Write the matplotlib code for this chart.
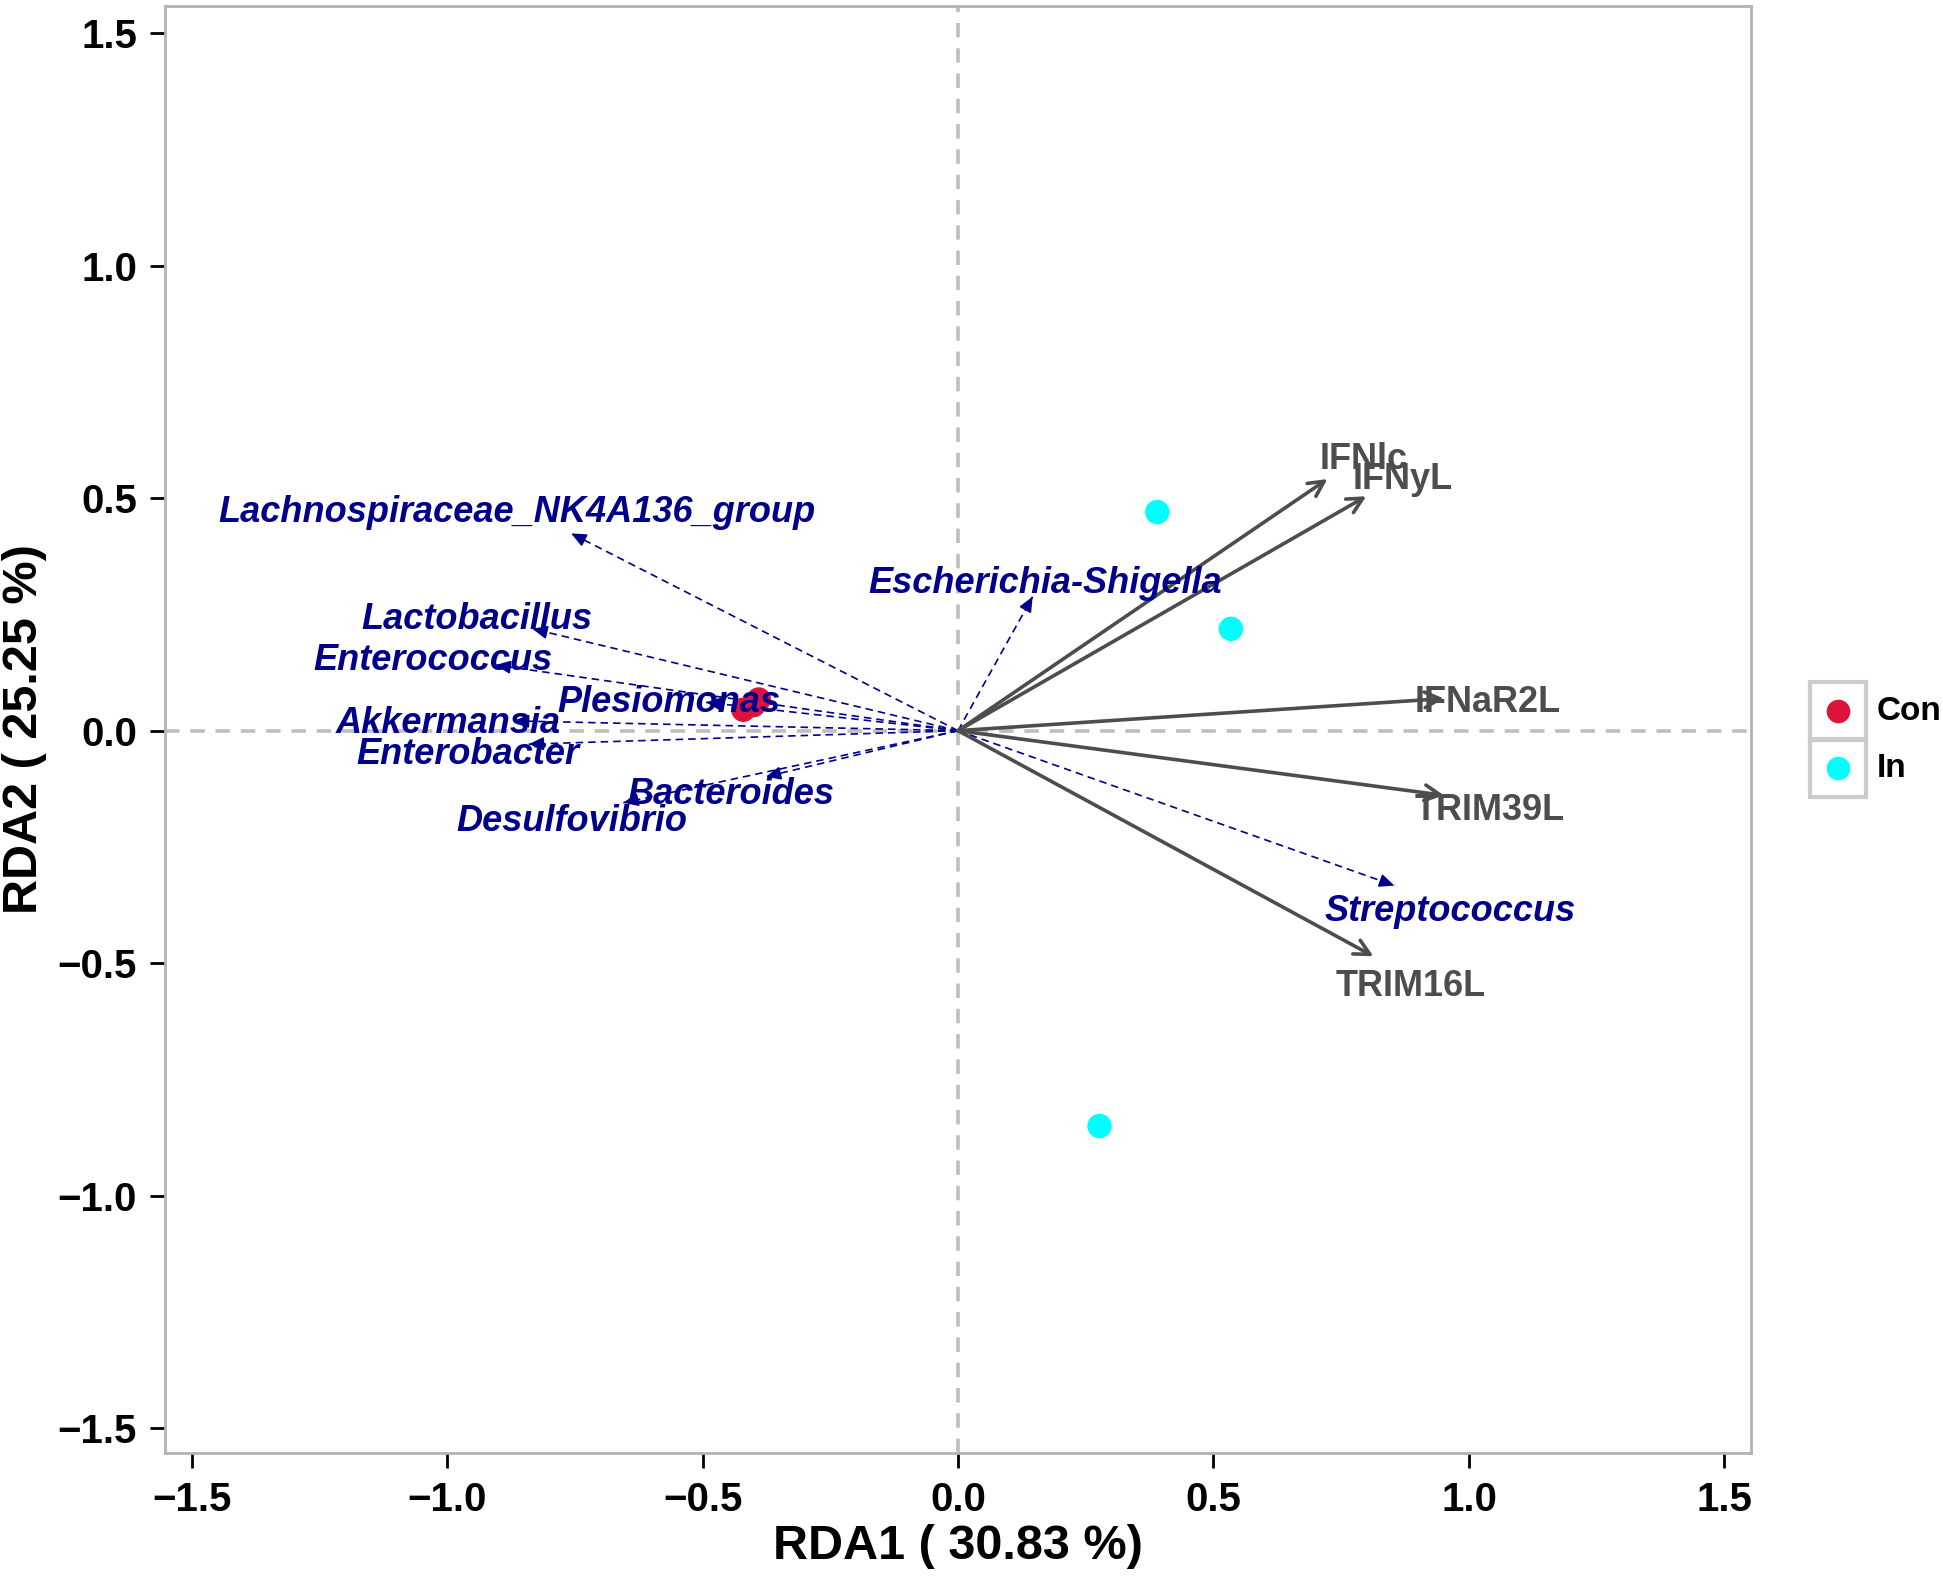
import numpy as np
import matplotlib
matplotlib.use("Agg")
import matplotlib.pyplot as plt
from matplotlib.patches import Rectangle
from matplotlib.lines import Line2D

plt.rcParams["font.family"] = ["Liberation Sans", "DejaVu Sans"]
plt.rcParams["font.weight"] = "bold"

# sample scores (sites)
con_x = [-0.42, -0.40, -0.39]
con_y = [0.045, 0.055, 0.067]
in_x = [0.39, 0.534, 0.277]
in_y = [0.47, 0.219, -0.85]

# environmental vectors
env_names = ["IFNlc", "IFNyL", "IFNaR2L", "TRIM39L", "TRIM16L"]
env_x = [0.723, 0.799, 0.951, 0.951, 0.813]
env_y = [0.541, 0.504, 0.069, -0.139, -0.485]
env_lx = [0.794, 0.871, 1.036, 1.041, 0.886]
env_ly = [0.592, 0.549, 0.069, -0.163, -0.541]

# species vectors
sp_names = ["Lachnospiraceae_NK4A136_group", "Escherichia-Shigella", "Lactobacillus",
            "Enterococcus", "Plesiomonas", "Akkermansia", "Enterobacter",
            "Bacteroides", "Desulfovibrio", "Streptococcus"]
sp_x = [-0.757, 0.146, -0.833, -0.905, -0.493, -0.869, -0.840, -0.376, -0.655, 0.854]
sp_y = [0.424, 0.288, 0.219, 0.141, 0.061, 0.021, -0.029, -0.099, -0.155, -0.333]
sp_lx = [-0.864, 0.170, -0.942, -1.027, -0.566, -0.998, -0.959, -0.444, -0.755, 0.964]
sp_ly = [0.477, 0.325, 0.248, 0.160, 0.069, 0.024, -0.043, -0.128, -0.187, -0.381]

groups = ["Con", "In"]
group_colors = ["#DC143C", "#00FFFF"]

ENV_COL = "#4D4D4D"
SP_COL = "#00008B"

fig = plt.figure(figsize=(19.43, 15.78), dpi=100)
ax = fig.add_axes([0.0849, 0.0792, 0.9012 - 0.0849, 0.9962 - 0.0792])

ax.axhline(0, color="#BEBEBE", lw=2.6, ls=(0, (4, 3)), zorder=1)
ax.axvline(0, color="#BEBEBE", lw=2.6, ls=(0, (4, 3)), zorder=1)

# species arrows: dashed shaft + small filled head
for x, y in zip(sp_x, sp_y):
    ax.plot([0, x], [0, y], color=SP_COL, lw=1.2, ls=(0, (4.5, 3)), zorder=2)
    ax.annotate("", xy=(x, y), xytext=(x * 0.97, y * 0.97),
                arrowprops=dict(arrowstyle="-|>,head_length=0.45,head_width=0.2",
                                color=SP_COL, lw=1.2, mutation_scale=20,
                                shrinkA=0, shrinkB=0), zorder=2)

# environment arrows
for x, y in zip(env_x, env_y):
    ax.annotate("", xy=(x, y), xytext=(0, 0),
                arrowprops=dict(arrowstyle="->,head_length=0.55,head_width=0.28",
                                color=ENV_COL, lw=2.6, mutation_scale=20,
                                shrinkA=0, shrinkB=0), zorder=3)

# sample points
ax.scatter(con_x, con_y, s=310, color=group_colors[0], edgecolors="none", zorder=4)
ax.scatter(in_x, in_y, s=310, color=group_colors[1], edgecolors="none", zorder=4)

for n, lx, ly in zip(sp_names, sp_lx, sp_ly):
    ax.text(lx, ly, n, color=SP_COL, fontsize=26, fontstyle="italic",
            fontweight="bold", ha="center", va="center_baseline", zorder=5)
for n, lx, ly in zip(env_names, env_lx, env_ly):
    ax.text(lx, ly, n, color=ENV_COL, fontsize=26, fontweight="bold",
            ha="center", va="center_baseline", zorder=5)

ax.set_xlim(-1.552, 1.552)
ax.set_ylim(-1.553, 1.558)
ticks = [-1.5, -1.0, -0.5, 0.0, 0.5, 1.0, 1.5]
ax.set_xticks(ticks)
ax.set_yticks(ticks)
ax.set_xticklabels([f"{t:.1f}".replace("-", "\u2212") for t in ticks])
ax.set_yticklabels([f"{t:.1f}".replace("-", "\u2212") for t in ticks])
ax.tick_params(axis="both", length=11, width=2, color="black", labelsize=29,
               labelcolor="black", pad=9)
for sp in ax.spines.values():
    sp.set_color("#B3B3B3")
    sp.set_linewidth(2)
ax.set_xlabel("RDA1 ( 30.83 %)", fontsize=35, fontweight="bold", labelpad=4)
ax.set_ylabel("RDA2 ( 25.25 %)", fontsize=35, fontweight="bold", labelpad=8)

# legend (drawn like the ggplot key boxes)
kx, kw, kh = 0.9315, 0.0288, 0.0362
key_y = [0.5494, 0.5133]
for g, c, yk in zip(groups, group_colors, key_y):
    fig.patches.append(Rectangle((kx, yk - kh / 2), kw, kh, transform=fig.transFigure,
                                 fill=False, ec="#CCCCCC", lw=3))
    fig.lines.append(Line2D([kx + kw / 2], [yk], marker="o", markersize=17,
                            color=c, markeredgewidth=0, transform=fig.transFigure))
    fig.text(kx + kw + 0.0055, yk, g, fontsize=24, fontweight="bold",
             ha="left", va="center", color="black")

fig.savefig("out.png", dpi=100, facecolor="white")
